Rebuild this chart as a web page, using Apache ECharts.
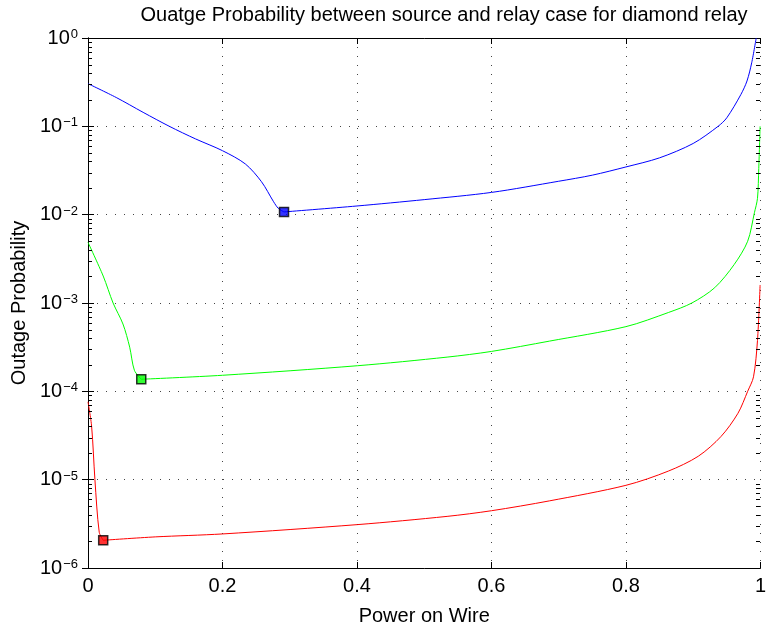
<!DOCTYPE html>
<html>
<head>
<meta charset="utf-8">
<script src="https://cdn.jsdelivr.net/npm/echarts@6/dist/echarts.min.js"></script>
<style>
  html, body { margin: 0; padding: 0; background: #fff; }
  #chart { width: 769px; height: 631px; }
</style>
</head>
<body>
<div id="chart"></div>
<script>
// 数据（从图上读出来的近似值）
const blueX = [0, 0.042, 0.082, 0.121, 0.16, 0.2, 0.234, 0.258, 0.276, 0.283, 0.2915, 0.4, 0.5, 0.6, 0.7, 0.75, 0.8, 0.85, 0.9, 0.937, 0.95, 0.971, 0.98, 0.987, 0.9937]
const blueY = [0.304, 0.212, 0.144, 0.1, 0.072, 0.053, 0.0375, 0.0236, 0.014, 0.0118, 0.01074, 0.01254, 0.0148, 0.01786, 0.0239, 0.028, 0.0347, 0.044, 0.064, 0.1, 0.125, 0.23, 0.326, 0.524, 1.0]

const greenX = [0, 0.0226, 0.0373, 0.052, 0.062, 0.069, 0.0792, 0.2, 0.401, 0.534, 0.6, 0.686, 0.8, 0.863, 0.898, 0.932, 0.961, 0.981, 0.991, 0.9956, 0.9975, 0.9995]
const greenY = [0.00486, 0.00202, 0.001, 0.000578, 0.000316, 0.000173, 0.000137, 0.000152, 0.000195, 0.000244, 0.000283, 0.00037, 0.00054, 0.00078, 0.001, 0.00149, 0.00273, 0.005, 0.0105, 0.0153, 0.0332, 0.1]

const redX = [0, 0.0054, 0.0103, 0.0167, 0.0226, 0.1, 0.2, 0.401, 0.534, 0.6, 0.686, 0.8, 0.863, 0.9075, 0.9415, 0.9666, 0.981, 0.9897, 0.9956, 0.9995]
const redY = [7.6e-5, 4.0e-5, 1.0e-5, 2.54e-6, 2.06e-6, 2.25e-6, 2.43e-6, 3.1e-6, 3.84e-6, 4.45e-6, 5.75e-6, 8.63e-6, 1.25e-5, 1.84e-5, 3.09e-5, 5.65e-5, 1.0e-4, 1.46e-4, 3.76e-4, 1.6e-3]

// 每条曲线的最小值点（方块标记）
const minX = [0.2915, 0.0792, 0.0226]
const minY = [0.01074, 0.000137, 2.06e-6]

const yDecades = [1e-6, 1e-5, 1e-4, 1e-3, 1e-2, 1e-1, 1]
const colors = ['#0000ff', '#00ff00', '#ff0000']

// 对数轴的次刻度 2..9 × 10^n
const minorValues = []
yDecades.slice(0, -1).forEach(d => {
  for (let k = 2; k <= 9; k++) minorValues.push(k * d)
})

const font = 'Liberation Sans, Arial, Helvetica, sans-serif'

const supLabel = (v) => {
  const e = Math.round(Math.log10(v))
  return '{b|10}{e|' + (e < 0 ? '\u2212' + (-e) : e) + '}'
}

// 曲线在最小值处分成左右两段，各自平滑
const branches = (xs, ys, mx) => {
  const idx = xs.indexOf(mx)
  const pts = xs.map((x, i) => [x, ys[i]])
  return [pts.slice(0, idx + 1), pts.slice(idx)]
}

const chart = echarts.init(document.getElementById('chart'))

const tickStyle = { color: '#000', width: 1 }
const logAxis = (extra) => Object.assign({
  type: 'log',
  logBase: 10,
  min: 1e-6,
  max: 1,
  axisLine: { show: true, lineStyle: { color: '#000', width: 1 } },
  axisTick: { show: true, inside: true, length: 6, lineStyle: tickStyle },
  axisLabel: { show: false },
  splitLine: { show: false }
}, extra)
const valAxis = (extra) => Object.assign({
  type: 'value',
  min: 0,
  max: 1,
  interval: 0.2,
  axisLine: { show: true, onZero: false, lineStyle: { color: '#000', width: 1 } },
  axisTick: { show: true, inside: true, length: 6, lineStyle: tickStyle },
  axisLabel: { show: false },
  splitLine: { show: false }
}, extra)

const gridLine = { show: true, lineStyle: { color: '#444', type: [1, 8], width: 1 } }

const lineSeries = []
;[[blueX, blueY], [greenX, greenY], [redX, redY]].forEach(([xs, ys], i) => {
  branches(xs, ys, minX[i]).forEach(part => {
    lineSeries.push({
      type: 'line',
      data: part,
      showSymbol: false,
      smooth: 0.3,
      lineStyle: { color: colors[i], width: 1 }
    })
  })
})

// 左右两侧的次刻度，用坐标系换算位置
const minorTicks = (side) => ({
  type: 'custom',
  silent: true,
  clip: false,
  z: 4,
  data: minorValues.map(v => [side, v]),
  renderItem: (params, api) => {
    const p = api.coord([api.value(0), api.value(1)])
    const y = Math.round(p[1]) + 0.5
    const x = Math.round(p[0])
    const dir = side === 0 ? 1 : -1
    return {
      type: 'line',
      shape: { x1: x, y1: y, x2: x + dir * 4, y2: y },
      style: { stroke: '#000', lineWidth: 1 }
    }
  }
})

const option = {
  animation: false,
  backgroundColor: '#fff',
  title: {
    text: 'Ouatge Probability between source and relay case for diamond relay',
    left: 439,
    textAlign: 'center',
    top: 0,
    textStyle: { fontFamily: font, fontSize: 20, fontWeight: 'normal', color: '#000' }
  },
  grid: { left: 88, right: 3, top: 38, bottom: 58, containLabel: false },
  xAxis: [
    valAxis({
      position: 'bottom',
      name: 'Power on Wire',
      nameLocation: 'middle',
      nameGap: 38,
      nameTextStyle: { fontFamily: font, fontSize: 20, color: '#000' },
      axisLabel: {
        show: true,
        margin: 8,
        fontFamily: font, fontSize: 20, color: '#000',
        formatter: (v) => String(+v.toFixed(1))
      },
      splitLine: gridLine
    }),
    valAxis({ position: 'top' })
  ],
  yAxis: [
    logAxis({
      position: 'left',
      name: 'Outage Probability',
      nameLocation: 'middle',
      nameGap: 53,
      nameTextStyle: { fontFamily: font, fontSize: 20, color: '#000' },
      axisLabel: {
        show: true,
        margin: 10,
        formatter: supLabel,
        rich: {
          b: { fontFamily: font, fontSize: 20, color: '#000', lineHeight: 20, verticalAlign: 'middle' },
          e: { fontFamily: font, fontSize: 13, color: '#000', lineHeight: 14, padding: [0, 0, 16, 1], verticalAlign: 'top' }
        }
      },
      splitLine: gridLine
    }),
    logAxis({ position: 'right' })
  ],
  series: lineSeries.concat([
    minorTicks(0),
    minorTicks(1),
    {
      name: 'min',
      type: 'scatter',
      symbol: 'rect',
      symbolSize: 9,
      data: minX.map((x, i) => ({
        value: [x, minY[i]],
        itemStyle: { color: colors[i], borderColor: '#000', borderWidth: 1.5 }
      })),
      z: 5
    }
  ])
}

chart.setOption(option)
</script>
</body>
</html>
